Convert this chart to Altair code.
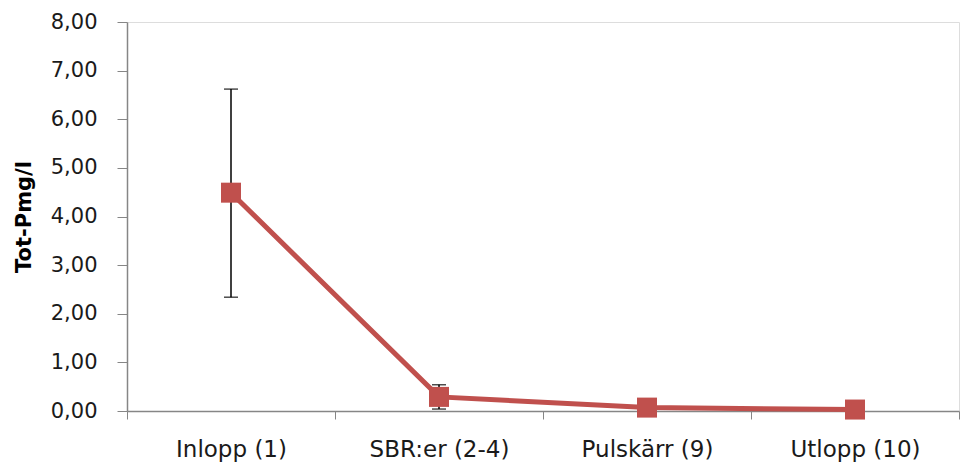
import altair as alt
import pandas as pd

# Total phosphorus per sampling point (mg/l) with spread
stations = ["Inlopp (1)", "SBR:er (2-4)", "Pulskärr (9)", "Utlopp (10)"]
mean_p = [4.49, 0.29, 0.07, 0.03]
err_low = [2.34, 0.04, None, None]
err_high = [6.62, 0.54, None, None]

df = pd.DataFrame({"station": stations, "p": mean_p, "lo": err_low, "hi": err_high})

FONT = "DejaVu Sans"
RED = "#C0504D"
GRAY = "#868686"

x_enc = alt.X(
    "station:N",
    sort=stations,
    scale=alt.Scale(paddingInner=0, paddingOuter=0),
    axis=alt.Axis(
        title=None, labelAngle=0, tickBand="extent", domainColor=GRAY,
        tickColor=GRAY, tickSize=8, labelPadding=19, labelFontSize=23,
        labelFont=FONT, labelColor="#1a1a1a", grid=False, domainWidth=1.5,
    ),
)
y_scale = alt.Scale(domain=[0, 8], nice=False)

base = alt.Chart(df)

err = base.transform_filter("datum.lo != null")
bars = err.mark_rule(color="black", strokeWidth=1.5).encode(
    x=x_enc, y=alt.Y("lo:Q", scale=y_scale), y2="hi:Q"
)
cap_lo = err.mark_tick(color="black", size=14, thickness=1.5, orient="horizontal").encode(
    x=x_enc, y=alt.Y("lo:Q", scale=y_scale)
)
cap_hi = err.mark_tick(color="black", size=14, thickness=1.5, orient="horizontal").encode(
    x=x_enc, y=alt.Y("hi:Q", scale=y_scale)
)

line = base.mark_line(color=RED, strokeWidth=5).encode(
    x=x_enc,
    y=alt.Y(
        "p:Q",
        scale=y_scale,
        axis=alt.Axis(
            title="Tot-Pmg/l", titleFont=FONT, titleFontSize=21, titleFontWeight="bold",
            titleColor="#000000", titlePadding=16,
            values=[0, 1, 2, 3, 4, 5, 6, 7, 8],
            labelExpr="replace(format(datum.value, '.2f'), '.', ',')",
            labelFont=FONT, labelFontSize=21, labelColor="#1a1a1a", labelPadding=20,
            tickSize=10, tickColor=GRAY, domainColor=GRAY, domainWidth=1.5, grid=False,
        ),
    ),
)
points = base.mark_point(shape="square", filled=True, color=RED, size=400, opacity=1).encode(
    x=x_enc, y=alt.Y("p:Q", scale=y_scale)
)

chart = (
    alt.layer(bars, cap_lo, cap_hi, line, points)
    .properties(
        width=832, height=389,
        autosize=alt.AutoSizeParams(type="none"),
        padding={"left": 127, "top": 22, "right": 1, "bottom": 52},
    )
    .configure_view(stroke=None)
    .configure(background="white")
)

chart.save("out.html", embed_options={"renderer": "svg", "actions": False})
